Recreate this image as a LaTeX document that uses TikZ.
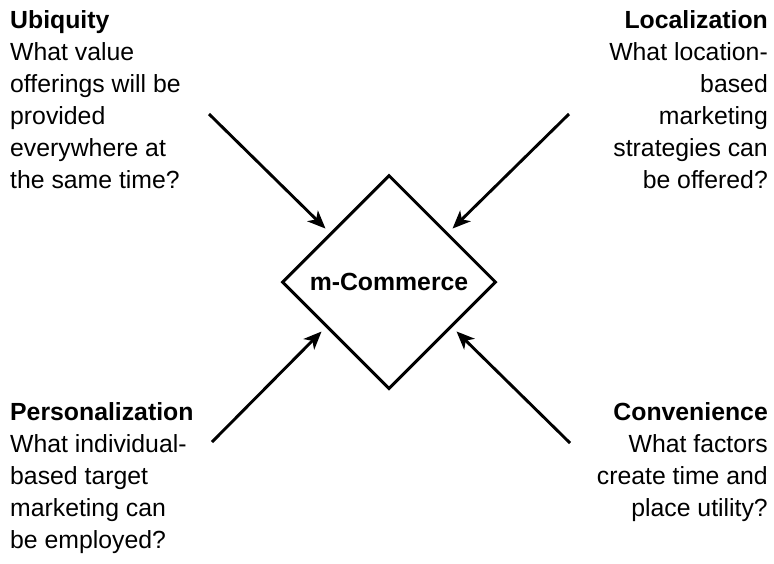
\documentclass[tikz,border=0pt]{standalone}
\usepackage{fontspec}
\setmainfont{Liberation Sans}
\usetikzlibrary{shapes.geometric,arrows.meta,calc}
\begin{document}
\begin{tikzpicture}[x=1pt,y=-1pt,
  txt/.style={inner sep=0pt,font=\fontsize{24.8}{32}\selectfont},
  hub/.style={diamond,draw,line width=3pt,aspect=1,inner sep=0pt,
    minimum width=214pt,minimum height=214pt,font=\fontsize{24.8}{30}\selectfont\bfseries},
  feed/.style={line width=2.9pt,-{Stealth[length=18pt,width=15pt,inset=5pt]},shorten >=6pt}]
\useasboundingbox (0,0) rectangle (774,563);
\node[hub] (d) at (389,282) {m-Commerce};
\node[txt,anchor=north west,align=left] (ub) at (10,10)
  {\textbf{Ubiquity}\\What value\\offerings will be\\provided\\everywhere at\\the same time?};
\node[txt,anchor=north east,align=right] (lo) at (768,10)
  {\textbf{Localization}\\What location-\\based\\marketing\\strategies can\\be offered?};
\node[txt,anchor=north west,align=left] (pe) at (10,402)
  {\textbf{Personalization}\\What individual-\\based target\\marketing can\\be employed?};
\node[txt,anchor=north east,align=right] (co) at (768,402)
  {\textbf{Convenience}\\What factors\\create time and\\place utility?};
\coordinate (s1) at (209,114);
\coordinate (s2) at (569,114);
\coordinate (s3) at (212,442);
\coordinate (s4) at (570,443);
\draw[feed] (s1) -- ($(d.north west)+(-5,5)$);
\draw[feed] (s2) -- ($(d.north east)+(5,5)$);
\draw[feed] (s3) -- ($(d.south west)+(-9,-9)$);
\draw[feed] (s4) -- ($(d.south east)+(9,-9)$);
\end{tikzpicture}
\end{document}
